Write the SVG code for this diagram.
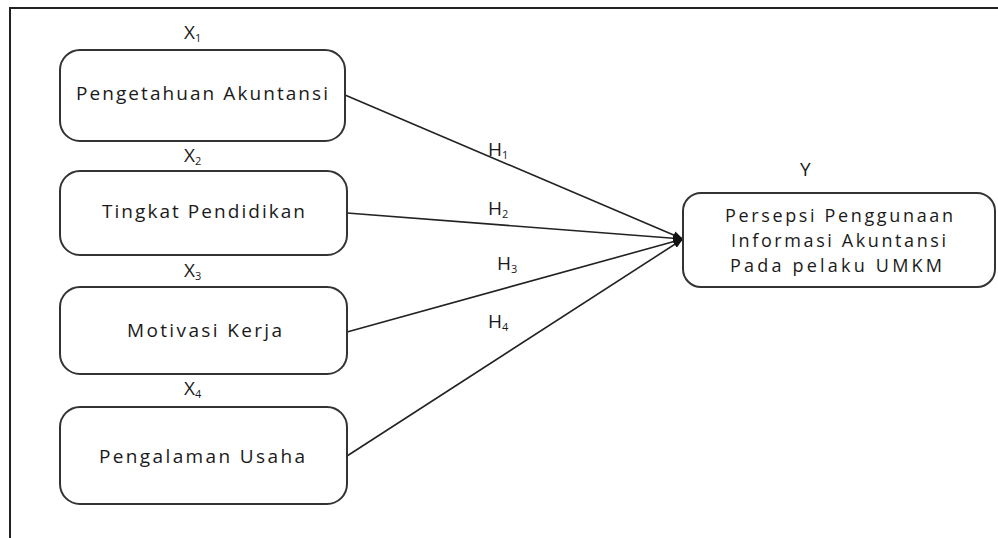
<svg xmlns="http://www.w3.org/2000/svg" width="998" height="538" viewBox="0 0 998 538">
<style>
.box{fill:#fff;stroke:#333;stroke-width:2}
.lbl{font-family:"Open Sans","Liberation Sans",Arial,sans-serif;font-size:19px;fill:#1a1a1a}
.ml{font-size:18px}
.sub{font-size:11px}
.conn{stroke:#222;stroke-width:1.6;fill:none}
</style>
<defs>
<marker id="arr" markerWidth="10" markerHeight="8" refX="10" refY="4" orient="auto" markerUnits="userSpaceOnUse">
<path d="M0,0 L10,4 L0,8 Z" fill="#111"/>
</marker>
</defs>
<rect width="998" height="538" fill="#fff"/>
<path d="M10,538 V8 H998" fill="none" stroke="#222" stroke-width="2"/>
<g id="connectors">
<line class="conn" x1="345" y1="95" x2="683" y2="239" marker-end="url(#arr)"/>
<line class="conn" x1="347" y1="213" x2="683" y2="239" marker-end="url(#arr)"/>
<line class="conn" x1="347" y1="332" x2="683" y2="239" marker-end="url(#arr)"/>
<line class="conn" x1="347" y1="456" x2="683" y2="239" marker-end="url(#arr)"/>
<text class="lbl" x="488" y="156">H<tspan class="sub" dy="3">1</tspan></text>
<text class="lbl" x="488" y="215">H<tspan class="sub" dy="3">2</tspan></text>
<text class="lbl" x="497" y="270">H<tspan class="sub" dy="3">3</tspan></text>
<text class="lbl" x="488" y="328">H<tspan class="sub" dy="3">4</tspan></text>
</g>
<g id="x1">
<text class="lbl" x="184" y="39">X<tspan class="sub" dy="3">1</tspan></text>
<rect class="box" x="60" y="50" width="285" height="91" rx="20"/>
<text class="lbl" x="76" y="100" textLength="252" lengthAdjust="spacing">Pengetahuan Akuntansi</text>
</g>
<g id="x2">
<text class="lbl" x="184" y="162">X<tspan class="sub" dy="3">2</tspan></text>
<rect class="box" x="60" y="171" width="287" height="84" rx="20"/>
<text class="lbl" x="102" y="218" textLength="203" lengthAdjust="spacing">Tingkat Pendidikan</text>
</g>
<g id="x3">
<text class="lbl" x="184" y="277">X<tspan class="sub" dy="3">3</tspan></text>
<rect class="box" x="60" y="287" width="287" height="87" rx="20"/>
<text class="lbl" x="127" y="337" textLength="155" lengthAdjust="spacing">Motivasi Kerja</text>
</g>
<g id="x4">
<text class="lbl" x="184" y="395">X<tspan class="sub" dy="3">4</tspan></text>
<rect class="box" x="60" y="407" width="287" height="97" rx="20"/>
<text class="lbl" x="99" y="463" textLength="206" lengthAdjust="spacing">Pengalaman Usaha</text>
</g>
<g id="y">
<text class="lbl" x="800" y="176">Y</text>
<rect class="box" x="683" y="193" width="312" height="94" rx="18"/>
<text class="lbl ml" x="725" y="222" textLength="228" lengthAdjust="spacing">Persepsi Penggunaan</text>
<text class="lbl ml" x="731" y="247" textLength="215" lengthAdjust="spacing">Informasi Akuntansi</text>
<text class="lbl ml" x="730" y="272" textLength="212" lengthAdjust="spacing">Pada pelaku UMKM</text>
</g>
</svg>
